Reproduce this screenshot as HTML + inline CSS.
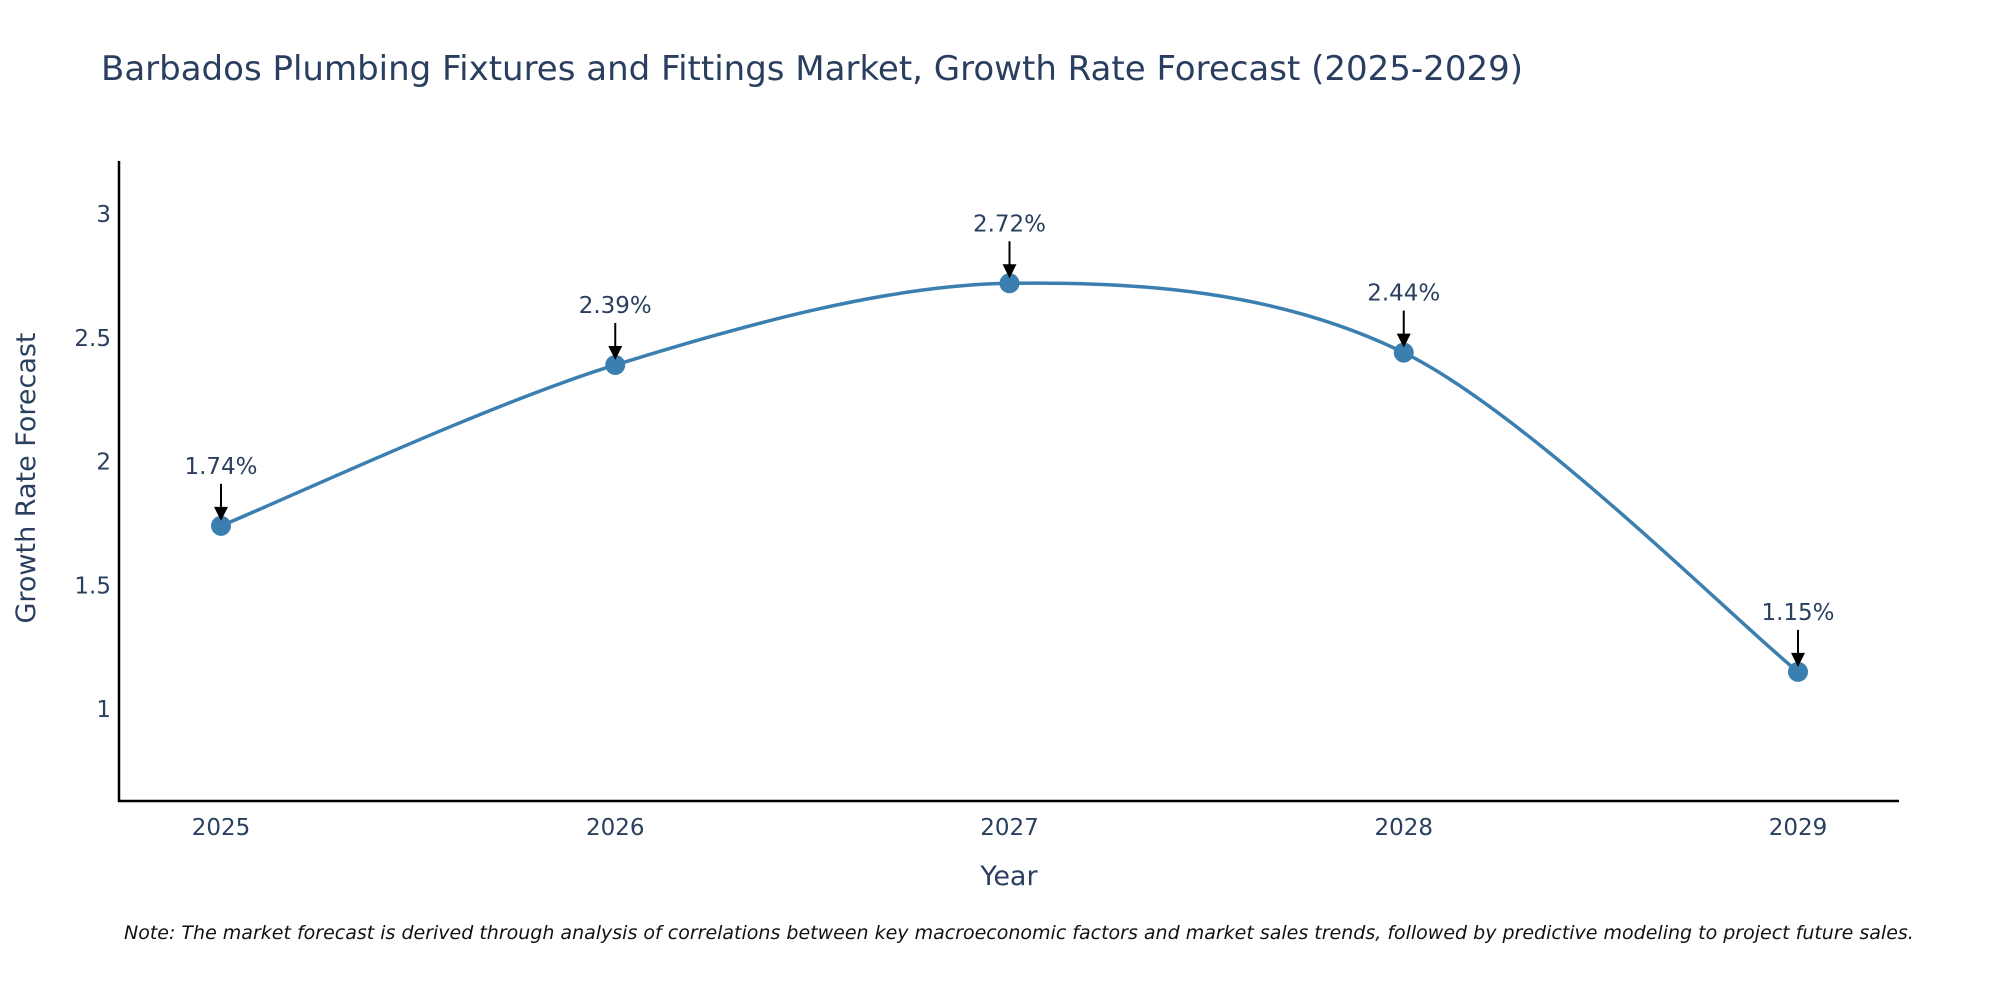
<!DOCTYPE html>
<html><head><meta charset="utf-8">
<style>
html,body{margin:0;padding:0;background:#fff;}
svg{display:block;font-family:"DejaVu Sans","Liberation Sans",sans-serif;}
</style></head>
<body>
<svg id="chart" width="2000" height="1000" viewBox="0 0 2000 1000">
  <text x="101" y="80" font-size="34" fill="#2a3f5f">Barbados Plumbing Fixtures and Fittings Market, Growth Rate Forecast (2025-2029)</text>
  <g id="yticks"></g>
  <g id="xticks"></g>
  <g id="series"></g>
  <g id="annots"></g>
  <line x1="119" y1="161" x2="119" y2="802" stroke="#000" stroke-width="2.5"/>
  <line x1="118" y1="801" x2="1899" y2="801" stroke="#000" stroke-width="2.5"/>
  <text x="1009" y="885" font-size="27" fill="#2a3f5f" text-anchor="middle">Year</text>
  <text transform="translate(35,478) rotate(-90)" font-size="27" fill="#2a3f5f" text-anchor="middle">Growth Rate Forecast</text>
  <text x="124" y="939" font-size="19" font-style="italic" fill="#111">Note: The market forecast is derived through analysis of correlations between key macroeconomic factors and market sales trends, followed by predictive modeling to project future sales.</text>
</svg>
<script>
const years = [2025, 2026, 2027, 2028, 2029];
const growthValues = [1.74, 2.39, 2.72, 2.44, 1.15];
const valueLabels = ["1.74%", "2.39%", "2.72%", "2.44%", "1.15%"];
const yTickValues = [1, 1.5, 2, 2.5, 3];
const yTickLabels = ["1", "1.5", "2", "2.5", "3"];

const NS = "http://www.w3.org/2000/svg";
function xScale(yr){ return 221 + (yr - 2025) * (1798 - 221) / 4; }
function yScale(v){ return 709 - (v - 1) * 247.5; }
function mk(tag, attrs, parent){
  const e = document.createElementNS(NS, tag);
  for (const k in attrs) e.setAttribute(k, attrs[k]);
  parent.appendChild(e);
  return e;
}
const yt = document.getElementById('yticks');
yTickValues.forEach((v,i)=>{
  const t = mk('text',{x:111,y:yScale(v)+8,'font-size':23,fill:'#2a3f5f','text-anchor':'end'},yt);
  
  
  t.textContent = yTickLabels[i];
});
const xt = document.getElementById('xticks');
years.forEach(yr=>{
  const t = mk('text',{x:xScale(yr),y:835,'font-size':23,fill:'#2a3f5f','text-anchor':'middle'},xt);
  
  
  t.textContent = String(yr);
});
const pts = years.map((yr,i)=>[xScale(yr), yScale(growthValues[i])]);
let d = `M${pts[0][0]},${pts[0][1]}`;
const s = 0.16;
for (let i=0;i<pts.length-1;i++){
  const p0 = pts[Math.max(i-1,0)], p1 = pts[i], p2 = pts[i+1], p3 = pts[Math.min(i+2,pts.length-1)];
  const c1 = [p1[0]+(p2[0]-p0[0])*s, p1[1]+(p2[1]-p0[1])*s];
  const c2 = [p2[0]-(p3[0]-p1[0])*s, p2[1]-(p3[1]-p1[1])*s];
  d += ` C${c1[0]},${c1[1]} ${c2[0]},${c2[1]} ${p2[0]},${p2[1]}`;
}
const sg = document.getElementById('series');
const line = mk('path',{d:d,fill:'none',stroke:'#3b7fb1','stroke-width':3.5},sg);


pts.forEach((p,i)=>{
  const c = mk('circle',{cx:p[0],cy:p[1],r:10,fill:'#3b7fb1'},sg);
  
  
});
const ag = document.getElementById('annots');
pts.forEach((p,i)=>{
  const g = mk('g',{},ag);
  
  
  mk('line',{x1:p[0],y1:p[1]-42,x2:p[0],y2:p[1]-16,stroke:'#000','stroke-width':2},g);
  mk('polygon',{points:`${p[0]-7},${p[1]-19} ${p[0]+7},${p[1]-19} ${p[0]},${p[1]-5}`,fill:'#000'},g);
  const t = mk('text',{x:p[0],y:p[1]-52,'font-size':23,fill:'#2a3f5f','text-anchor':'middle'},g);
  
  
  t.textContent = valueLabels[i];
});
</script>
</body></html>
